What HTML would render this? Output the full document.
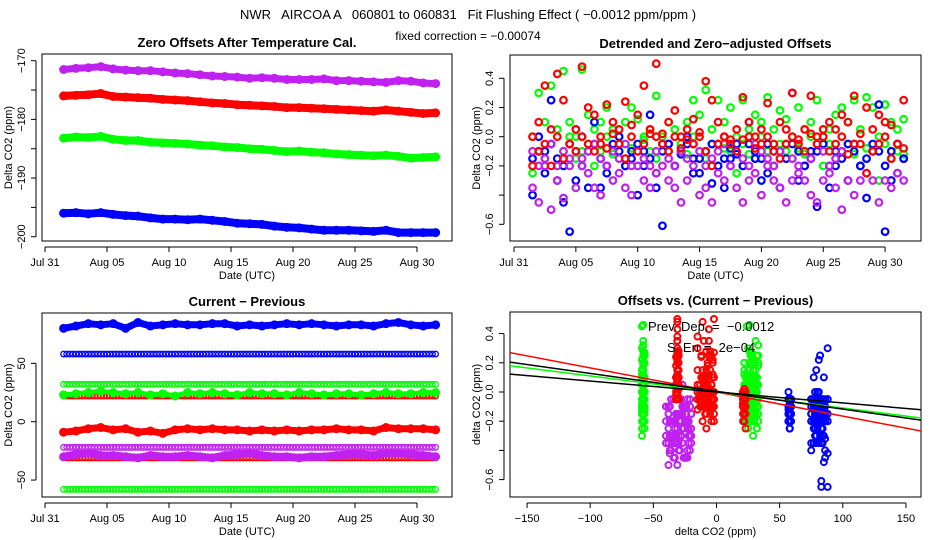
<!DOCTYPE html>
<html><head><meta charset="utf-8">
<style>
html,body{margin:0;padding:0;background:#fff;}
svg{display:block;font-family:"Liberation Sans",sans-serif;}
text{white-space:pre;}
</style></head>
<body>
<svg id="chart" width="936" height="540" viewBox="0 0 936 540" xmlns="http://www.w3.org/2000/svg">
<rect width="936" height="540" fill="#fff"/>
<text x="468" y="19" font-size="13" text-anchor="middle" xml:space="preserve">NWR   AIRCOA A   060801 to 060831   Fit Flushing Effect ( −0.0012 ppm/ppm )</text>
<text x="468" y="40" font-size="12" text-anchor="middle">fixed correction = −0.00074</text>
<defs>
<clipPath id="c1"><rect x="42" y="54" width="410" height="187"/></clipPath>
<clipPath id="c2"><rect x="510" y="55" width="411" height="186"/></clipPath>
<clipPath id="c3"><rect x="42" y="313" width="410" height="184"/></clipPath>
<clipPath id="c4"><rect x="510" y="312" width="411" height="185"/></clipPath>
</defs>
<g id="g1"></g>
<g id="g2"></g>
<g id="g3"></g>
<g id="g4"></g>
</svg>
<script>
// ---------- data ----------
const dateTicks = ["Jul 31","Aug 05","Aug 10","Aug 15","Aug 20","Aug 25","Aug 30"];
const dateTickDays = [0,5,10,15,20,25,30];
// panel 1 (daily, starting day 1.5)
const p1Purple = [-171.5,-171.3,-171.2,-171.0,-171.4,-171.6,-171.7,-171.7,-171.9,-172.1,-172.2,-172.4,-172.6,-172.7,-172.8,-173.0,-172.9,-173.0,-173.2,-173.2,-173.2,-173.1,-173.4,-173.4,-173.5,-173.6,-173.7,-173.4,-173.5,-173.8,-173.9];
const p1Red = [-176.0,-175.9,-175.8,-175.6,-176.1,-176.2,-176.3,-176.4,-176.6,-176.7,-176.8,-177.0,-177.2,-177.3,-177.5,-177.6,-177.7,-177.8,-178.0,-178.0,-178.1,-178.2,-178.3,-178.4,-178.5,-178.6,-178.4,-178.6,-178.8,-179.0,-178.9];
const p1Green = [-183.2,-183.0,-183.1,-182.9,-183.4,-183.6,-183.6,-183.9,-184.0,-184.1,-184.2,-184.4,-184.5,-184.7,-184.8,-185.0,-185.1,-185.3,-185.5,-185.4,-185.6,-185.7,-185.9,-186.0,-186.1,-186.2,-186.1,-186.3,-186.6,-186.5,-186.4];
const p1Blue = [-196.0,-195.9,-196.1,-195.9,-196.2,-196.4,-196.5,-196.8,-197.0,-197.0,-197.1,-197.0,-197.2,-197.4,-197.7,-197.8,-197.9,-198.2,-198.4,-198.5,-198.7,-198.9,-198.9,-198.9,-199.0,-199.1,-198.9,-199.3,-199.3,-199.3,-199.3];
const p1Ticks = [-170,-175,-180,-185,-190,-195,-200];
const p1Labels = ["-170","","-180","","-190","","-200"];
// panel 2 (half-day steps, starting day 1.5)
const p2RedA = [0.0,0.1,0.35,0.05,0.43,0.25,-0.05,0.05,0.48,0.2,0.15,-0.05,0.22,0.1,0.05,0.24,0.08,0.15,0.35,0.05,0.5,0.02,0.1,0.18,0.0,0.05,0.12,0.03,0.38,0.25,0.1,0.0,-0.02,0.05,0.27,0.1,0.0,0.05,0.23,-0.05,0.1,0.05,0.3,-0.02,0.05,0.28,0.0,0.05,0.1,0.05,0.15,0.1,0.28,-0.05,0.2,0.05,0.15,0.1,0.08,-0.05,0.25];
const p2RedB = [-0.2,-0.1,-0.05,-0.2,0.0,-0.15,-0.05,-0.1,0.0,-0.05,-0.1,0.0,-0.08,0.02,-0.05,-0.15,0.0,-0.1,-0.05,0.02,0.0,-0.05,-0.1,0.0,-0.08,-0.02,-0.05,0.0,-0.1,-0.2,-0.05,0.0,-0.05,-0.1,-0.02,0.0,-0.08,-0.05,0.0,-0.1,-0.15,-0.05,0.0,-0.05,-0.1,0.02,-0.05,0.0,-0.1,-0.05,0.0,-0.12,-0.05,0.02,-0.25,-0.1,-0.05,0.0,-0.15,-0.05,-0.08];
const p2GreenA = [0.0,0.3,0.1,0.35,0.05,0.45,0.1,0.0,0.46,0.15,0.05,0.1,0.2,0.05,0.0,0.1,0.2,0.12,0.0,0.05,0.28,0.0,0.1,0.05,0.0,0.1,0.25,0.15,0.32,0.05,0.25,0.1,0.2,0.0,0.25,0.05,0.15,0.1,0.27,0.05,0.18,0.12,0.0,0.2,0.05,0.1,0.25,0.0,0.05,0.15,0.2,0.1,0.25,0.05,0.27,0.2,0.0,0.22,0.1,0.05,0.12];
const p2GreenB = [-0.25,-0.1,-0.15,-0.05,-0.2,-0.1,0.0,-0.15,-0.1,-0.05,-0.2,-0.1,0.0,-0.12,-0.05,-0.15,-0.08,-0.2,-0.02,-0.1,-0.15,-0.05,-0.1,-0.2,-0.05,-0.12,0.0,-0.1,-0.15,-0.05,-0.2,-0.08,-0.1,-0.25,-0.05,-0.12,-0.15,0.0,-0.1,-0.2,-0.05,-0.1,-0.15,-0.08,-0.12,0.0,-0.1,-0.2,-0.05,-0.15,-0.1,-0.05,-0.12,-0.2,-0.08,-0.1,-0.3,-0.05,-0.15,-0.1,-0.12];
const p2BlueA = [-0.4,-0.1,-0.25,0.25,-0.3,-0.45,-0.65,-0.3,0.0,-0.35,0.1,-0.35,-0.2,-0.1,0.0,-0.2,-0.1,-0.4,-0.2,0.15,-0.35,-0.61,-0.05,-0.2,-0.1,0.0,-0.25,-0.15,-0.1,-0.32,-0.05,-0.35,-0.15,-0.05,-0.2,0.1,-0.15,-0.3,-0.25,-0.1,-0.35,-0.05,0.3,-0.3,-0.2,-0.1,-0.48,-0.05,-0.35,-0.2,-0.1,-0.3,-0.05,-0.2,-0.42,-0.1,0.22,-0.65,-0.3,-0.25,-0.15];
const p2BlueB = [-0.15,0.0,-0.1,-0.05,-0.15,-0.2,-0.05,-0.1,-0.2,-0.1,-0.05,-0.15,-0.25,-0.05,-0.1,-0.2,-0.15,-0.05,-0.1,-0.15,-0.25,-0.1,-0.05,-0.2,-0.12,-0.05,-0.15,-0.25,-0.1,-0.05,-0.2,-0.15,-0.08,-0.12,-0.2,-0.05,-0.1,-0.15,-0.05,-0.2,-0.1,-0.15,-0.05,-0.1,-0.2,-0.15,-0.1,-0.05,-0.2,-0.1,-0.15,-0.05,-0.1,-0.2,-0.15,-0.05,-0.1,-0.2,-0.1,-0.05,-0.15];
const p2PurpleA = [-0.35,-0.45,-0.2,-0.5,-0.3,-0.42,-0.2,-0.35,-0.15,-0.25,-0.35,-0.4,-0.2,-0.3,-0.25,-0.35,-0.4,-0.2,-0.3,-0.35,-0.25,-0.2,-0.3,-0.35,-0.45,-0.3,-0.2,-0.4,-0.35,-0.45,-0.25,-0.3,-0.2,-0.35,-0.45,-0.3,-0.25,-0.4,-0.2,-0.3,-0.35,-0.45,-0.3,-0.25,-0.3,-0.4,-0.45,-0.3,-0.25,-0.35,-0.5,-0.3,-0.4,-0.3,-0.25,-0.3,-0.45,-0.3,-0.35,-0.25,-0.3];
const p2PurpleB = [-0.1,-0.2,-0.15,-0.05,-0.2,-0.1,-0.15,0.05,-0.2,-0.1,-0.05,-0.15,-0.2,-0.1,-0.15,-0.05,-0.2,-0.1,-0.15,-0.2,-0.1,-0.05,-0.15,-0.2,-0.1,-0.15,-0.05,-0.1,-0.2,-0.15,-0.1,-0.05,-0.2,-0.1,-0.15,-0.2,-0.05,-0.1,-0.15,-0.2,-0.1,-0.05,-0.15,-0.2,-0.1,-0.15,-0.05,-0.1,-0.2,-0.15,-0.1];
const p2Ticks = [0.4,0.2,0.0,-0.2,-0.4,-0.6];
const p2Labels = ["0.4","0.2","0.0","-0.2","","-0.6"];
// panel 3
const p3BlueNoisy = [80,82,84,83,84,80,85,82,83,84,83,83,84,84,82,83,82,83,84,83,84,83,82,83,83,82,84,85,83,82,83];
const p3GreenNoisy = [23,24,25,26,25,24,25,23,24,22,25,24,25,24,23,25,24,24,23,25,24,23,24,24,23,24,25,24,24,25,25];
const p3RedNoisy = [-9,-8,-6,-5,-7,-6,-9,-8,-10,-7,-6,-7,-6,-7,-7,-8,-7,-8,-7,-8,-7,-7,-6,-7,-7,-8,-5,-6,-6,-6,-7];
const p3PurpleNoisy = [-30,-28,-27,-29,-29,-30,-31,-29,-30,-30,-29,-30,-31,-29,-28,-27,-29,-30,-30,-31,-30,-30,-29,-28,-28,-29,-27,-27,-28,-29,-30];
const p3FlatLevels = [58,32,22,-22,-31,-58];
const p3FlatColors = ["#0000ff","#00ff00","#ff0000","#c020f0","#ff0000","#00ff00"];
const p3Ticks = [50,0,-50];
const p3Labels = ["50","0","-50"];
// panel 4
const p4GreenLowX = [-58,-59,-57,-58];
const p4PurpleX = [-22,-25,-28,-31,-34,-37,-24,-30,-27,-33,-38,-21,-29,-35,-26,-32,-23,-36,-40,-20];
const p4RedColX = [-31,-30,-31,-32];
const p4RedMidX = [-15,-12,-10,-8,-6,-4,-2,-9,-11,-7,-5,-13,-3,-8];
const p4GreenHiX = [22,25,28,31,33,24,27,30,26,29,32,23];
const p4RedHiX = [21,22,23,22];
const p4BlueMidX = [58,57,59,58];
const p4BlueHiX = [75,78,80,82,84,86,88,79,81,83,85,77];
const p4Slopes = [-0.00165,-0.0011,-0.00122,-0.00075];
const p4Intercepts = [0.0,0.0,0.005,0.0];
const p4LineColors = ["#ff0000","#00ff00","#000000","#000000"];
const p4XTicks = [-150,-100,-50,0,50,100,150];
const p4YTicks = [0.4,0.2,0.0,-0.2,-0.4,-0.6];
const p4YLabels = ["0.4","0.2","0.0","-0.2","","-0.6"];

// ---------- helpers ----------
const NS = "http://www.w3.org/2000/svg";
function mk(tag, attrs, parent){
  const e = document.createElementNS(NS, tag);
  for (const k in attrs) e.setAttribute(k, attrs[k]);
  parent.appendChild(e);
  return e;
}
const xDate1 = d => 45 + d*12.4;
const y1 = v => 60.7 + (-170 - v)*5.867;
const xDate2 = d => 514 + d*12.37;
const y2 = v => 136.7 - v*146;
const y3 = v => 421.7 - v*1.167;
const x4 = v => 716.5 + v*1.263;
const y4 = v => 392 - v*146;

function frame(g, x0, y0, x1, y1b, title, xlab, ylab){
  const r = mk("rect",{x:x0,y:y0,width:x1-x0,height:y1b-y0,fill:"none",stroke:"#000","stroke-width":1},g);
  
  
  const t = mk("text",{x:(x0+x1)/2,y:y0-7,"font-size":13,"font-weight":"bold","text-anchor":"middle"},g);
  t.textContent = title;
  
  
  const xl = mk("text",{x:(x0+x1)/2,y:y1b+38,"font-size":11,"text-anchor":"middle"},g);
  xl.textContent = xlab;
  
  
  const cx = x0-30, cy=(y0+y1b)/2;
  const yl = mk("text",{x:cx,y:cy,"font-size":11,"text-anchor":"middle",transform:`rotate(-90 ${cx} ${cy})`},g);
  yl.textContent = ylab;
  
  
}
function xAxis(g, vals, labels, fx, yb){
  const ax = mk("line",{x1:fx(vals[0]),x2:fx(vals[vals.length-1]),y1:yb+6,y2:yb+6,stroke:"#000"},g);
  
  
  vals.forEach((v,i)=>{
    const tk = mk("line",{x1:fx(v),x2:fx(v),y1:yb+6,y2:yb+11,stroke:"#000"},g);
    
    
    const t = mk("text",{x:fx(v),y:yb+25,"font-size":11,"text-anchor":"middle"},g);
    t.textContent = labels[i];
    
    
  });
}
function yAxis(g, vals, labels, fy, xl){
  const ax = mk("line",{x1:xl-6,x2:xl-6,y1:fy(vals[0]),y2:fy(vals[vals.length-1]),stroke:"#000"},g);
  
  
  vals.forEach((v,i)=>{
    const tk = mk("line",{x1:xl-11,x2:xl-6,y1:fy(v),y2:fy(v),stroke:"#000"},g);
    
    
    if(labels[i]){
      const cx = xl-17, cy = fy(v);
      const t = mk("text",{x:cx,y:cy,"font-size":11,"text-anchor":"middle",transform:`rotate(-90 ${cx} ${cy})`},g);
      t.textContent = labels[i].replace("-","−");
      
      
    }
  });
}
function pt(g, x, y, color, r, sw){
  const c = mk("circle",{cx:x,cy:y,r:r,fill:"none",stroke:color,"stroke-width":sw},g);
  
  
}
function band(g, arr, fx, fy, color, w, name){
  const pts = arr.map((v,i)=>fx(1.5+i).toFixed(1)+","+fy(v).toFixed(1)).join(" ");
  const pl = mk("polyline",{points:pts,fill:"none",stroke:color,"stroke-width":w,"stroke-linejoin":"round","stroke-linecap":"round"},g);
  
  
  arr.forEach((v,i)=>pt(g, fx(1.5+i), fy(v), color, 3.5, 2));
}
const PURPLE = "#c020f0";

// ---------- panel 1 ----------
const g1 = document.getElementById("g1");
frame(g1,42,54,452,241,"Zero Offsets After Temperature Cal.","Date (UTC)","Delta CO2 (ppm)");
xAxis(g1,dateTickDays,dateTicks,xDate1,241);
yAxis(g1,p1Ticks,p1Labels,y1,42);
const d1 = mk("g",{"clip-path":"url(#c1)"},g1);
band(d1,p1Purple,xDate1,y1,PURPLE,7,"series-purple");
band(d1,p1Red,xDate1,y1,"#ff0000",8,"series-red");
band(d1,p1Green,xDate1,y1,"#00ff00",8,"series-green");
band(d1,p1Blue,xDate1,y1,"#0000ff",8,"series-blue");

// ---------- panel 2 ----------
const g2 = document.getElementById("g2");
frame(g2,510,55,921,241,"Detrended and Zero−adjusted Offsets","Date (UTC)","Delta CO2 (ppm)");
xAxis(g2,dateTickDays,dateTicks,xDate2,241);
yAxis(g2,p2Ticks,p2Labels,y2,510);
const d2 = mk("g",{"clip-path":"url(#c2)"},g2);
[[p2GreenA,"#00ff00"],[p2GreenB,"#00ff00"],[p2BlueA,"#0000ff"],[p2BlueB,"#0000ff"],[p2PurpleA,PURPLE],[p2PurpleB,PURPLE],[p2RedB,"#ff0000"],[p2RedA,"#ff0000"]].forEach(([arr,c])=>{
  arr.forEach((v,i)=>pt(d2, xDate2(1.5+i*0.5), y2(v), c, 3.3, 2.2));
});

// ---------- panel 3 ----------
const g3 = document.getElementById("g3");
frame(g3,42,313,452,497,"Current − Previous","Date (UTC)","Delta CO2 (ppm)");
xAxis(g3,dateTickDays,dateTicks,xDate1,497);
yAxis(g3,p3Ticks,p3Labels,y3,42);
const d3 = mk("g",{"clip-path":"url(#c3)"},g3);
p3FlatLevels.forEach((lv,k)=>{
  for(let d=1.5; d<=31.6; d+=0.25){
    pt(d3, xDate1(d), y3(lv), p3FlatColors[k], 2.8, 1.3);
  }
});
band(d3,p3BlueNoisy,xDate1,y3,"#0000ff",7,"series-blue-diff");
band(d3,p3GreenNoisy,xDate1,y3,"#00ff00",5,"series-green-diff");
band(d3,p3RedNoisy,xDate1,y3,"#ff0000",7,"series-red-diff");
band(d3,p3PurpleNoisy,xDate1,y3,PURPLE,8,"series-purple-diff");

// ---------- panel 4 ----------
const g4 = document.getElementById("g4");
frame(g4,510,312,921,497,"Offsets vs. (Current − Previous)","delta CO2 (ppm)","delta CO2 (ppm)");
xAxis(g4,p4XTicks,p4XTicks.map(v=>String(v).replace("-","−")),x4,497);
yAxis(g4,p4YTicks,p4YLabels,y4,510);
const d4 = mk("g",{"clip-path":"url(#c4)"},g4);
const groups = [
  [p4GreenLowX,[p2GreenA,p2GreenB],"#00ff00"],
  [p4PurpleX,[p2PurpleA,p2PurpleB],PURPLE],
  [p4RedColX,[p2RedA],"#ff0000"],
  [p4RedMidX,[p2RedA,p2RedB],"#ff0000"],
  [p4GreenHiX,[p2GreenA,p2GreenB],"#00ff00"],
  [p4RedHiX,[p2RedB],"#ff0000"],
  [p4BlueMidX,[p2BlueB],"#0000ff"],
  [p4BlueHiX,[p2BlueA,p2BlueB],"#0000ff"]
];
groups.forEach(([xs,ysets,c])=>{
  let n=0;
  ysets.forEach(ys=>ys.forEach(v=>{ pt(d4, x4(xs[n%xs.length]), y4(v), c, 3, 2); n++; }));
});
p4Slopes.forEach((s,i)=>{
  const l = mk("line",{x1:x4(-170),y1:y4(p4Intercepts[i]+s*-170),x2:x4(170),y2:y4(p4Intercepts[i]+s*170),stroke:p4LineColors[i],"stroke-width":1.5},d4);
  
  
});
const t1 = mk("text",{x:648,y:331,"font-size":13},g4);
t1.textContent = "Prev. Dep. =  −0.0012";


const t2 = mk("text",{x:667,y:352,"font-size":13},g4);
t2.textContent = "S. Err =  2e−04";


</script>
</body></html>
